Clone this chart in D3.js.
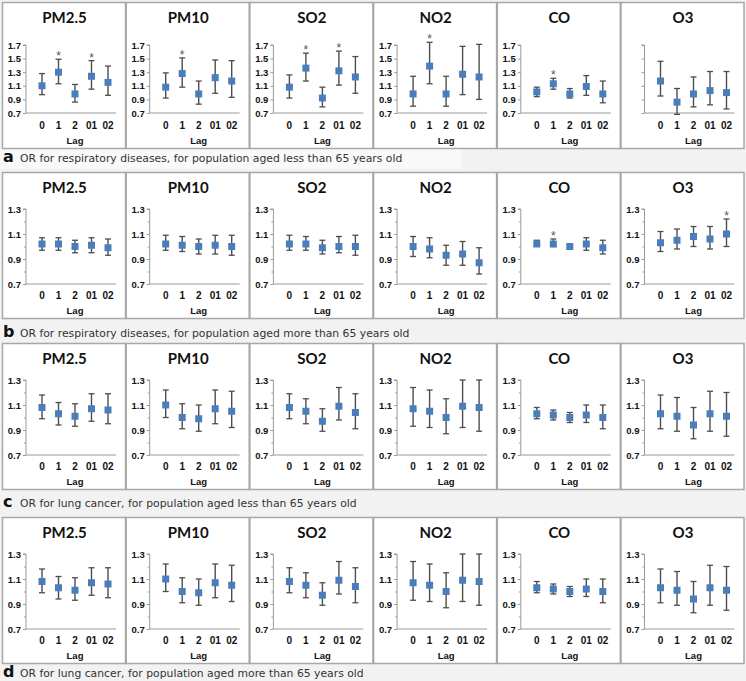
<!DOCTYPE html>
<html><head><meta charset="utf-8">
<script src="https://cdn.jsdelivr.net/npm/d3@7"></script>
<style>html,body{margin:0;padding:0;background:#f2f2f2;}</style>
</head><body><svg id="c" width="746" height="681"></svg>
<script>
const pollutants = ["PM2.5","PM10","SO2","NO2","CO","O3"];
const lags = ["0","1","2","01","02"];
const captions = [
  "OR for respiratory diseases, for population aged less than 65 years old",
  "OR for respiratory diseases, for population aged more than 65 years old",
  "OR for lung cancer, for population aged less than 65 years old",
  "OR for lung cancer, for population aged more than 65 years old"];
const captionLetters = ["a","b","c","d"];
const ticksA = [0.7,0.9,1.1,1.3,1.5,1.7];
const ticksB = [0.7,0.9,1.1,1.3];

// row a: respiratory, <65
const aOR  = [[1.10,1.30,0.98,1.24,1.15],[1.08,1.28,0.98,1.22,1.17],[1.08,1.36,0.92,1.32,1.23],[0.98,1.39,0.98,1.27,1.23],[1.01,1.13,0.98,1.09,0.98],[1.17,0.86,0.98,1.03,1.00]];
const aLow = [[0.97,1.13,0.86,1.05,0.96],[0.92,1.08,0.83,0.99,0.93],[0.92,1.17,0.79,1.11,0.99],[0.80,1.13,0.80,0.97,0.90],[0.94,1.05,0.92,0.96,0.85],[0.95,0.68,0.79,0.82,0.76]];
const aHigh= [[1.28,1.49,1.12,1.47,1.39],[1.29,1.51,1.17,1.48,1.47],[1.26,1.58,1.08,1.61,1.53],[1.24,1.74,1.24,1.68,1.71],[1.08,1.21,1.06,1.25,1.17],[1.46,1.06,1.23,1.31,1.31]];
const aSig = [[0,1],[0,3],[1,1],[2,1],[2,3],[3,1],[4,1]];

// row b: respiratory, >65
const bOR  = [[1.02,1.02,1.00,1.01,0.99],[1.02,1.01,1.00,1.01,1.00],[1.02,1.02,0.99,1.00,1.00],[1.00,0.98,0.93,0.94,0.87],[1.02,1.02,1.00,1.02,0.99],[1.03,1.05,1.08,1.06,1.10]];
const bLow = [[0.97,0.97,0.95,0.95,0.93],[0.97,0.96,0.94,0.94,0.93],[0.97,0.97,0.94,0.95,0.93],[0.92,0.91,0.85,0.85,0.78],[1.01,1.00,0.98,0.97,0.94],[0.96,0.98,1.00,0.98,1.00]];
const bHigh= [[1.07,1.07,1.05,1.07,1.06],[1.09,1.08,1.06,1.09,1.09],[1.09,1.08,1.05,1.08,1.09],[1.08,1.07,1.01,1.04,0.99],[1.05,1.06,1.02,1.07,1.05],[1.12,1.14,1.16,1.16,1.22]];
const bSig = [[4,1],[5,4]];

// row c: lung cancer, <65
const cOR  = [[1.08,1.03,1.01,1.07,1.06],[1.10,1.00,0.99,1.07,1.05],[1.08,1.05,0.97,1.09,1.04],[1.07,1.05,1.00,1.09,1.08],[1.03,1.02,1.00,1.02,1.00],[1.03,1.01,0.94,1.03,1.01]];
const cLow = [[0.99,0.94,0.93,0.97,0.95],[1.00,0.91,0.89,0.95,0.92],[0.99,0.95,0.89,0.98,0.91],[0.93,0.92,0.87,0.92,0.89],[0.99,0.98,0.96,0.96,0.91],[0.91,0.89,0.83,0.89,0.85]];
const cHigh= [[1.18,1.12,1.11,1.19,1.19],[1.22,1.11,1.10,1.22,1.21],[1.19,1.15,1.07,1.24,1.19],[1.24,1.22,1.15,1.30,1.30],[1.08,1.06,1.04,1.10,1.10],[1.18,1.16,1.08,1.21,1.20]];
const cSig = [];

// row d: lung cancer, >65
const dOR  = [[1.08,1.03,1.01,1.07,1.06],[1.10,1.00,0.99,1.07,1.05],[1.08,1.05,0.97,1.09,1.04],[1.07,1.05,1.00,1.09,1.08],[1.03,1.02,1.00,1.02,1.00],[1.03,1.01,0.94,1.03,1.01]];
const dLow = [[0.99,0.94,0.93,0.97,0.95],[1.00,0.91,0.89,0.95,0.92],[0.99,0.95,0.89,0.98,0.91],[0.93,0.92,0.87,0.92,0.89],[0.99,0.98,0.96,0.96,0.91],[0.91,0.89,0.83,0.89,0.85]];
const dHigh= [[1.18,1.12,1.11,1.19,1.19],[1.22,1.11,1.10,1.22,1.21],[1.19,1.15,1.07,1.24,1.19],[1.24,1.22,1.15,1.30,1.30],[1.08,1.06,1.04,1.10,1.10],[1.18,1.16,1.08,1.21,1.20]];
const dSig = [];

const rows = [
  {or:aOR, lo:aLow, hi:aHigh, sig:aSig, ticks:ticksA, top:2,   yTop:43, yBot:111, minor:false},
  {or:bOR, lo:bLow, hi:bHigh, sig:bSig, ticks:ticksB, top:172, yTop:37, yBot:112, minor:true},
  {or:cOR, lo:cLow, hi:cHigh, sig:cSig, ticks:ticksB, top:343, yTop:37, yBot:112, minor:true},
  {or:dOR, lo:dLow, hi:dHigh, sig:dSig, ticks:ticksB, top:517, yTop:37, yBot:112, minor:true}
];
const captionY = [162, 337, 507, 677];

const svg = d3.select("#c");
svg.append("rect").attr("width",746).attr("height",681).attr("fill","#f2f2f2");
svg.append("rect").attr("x",0).attr("y",149).attr("width",462).attr("height",20).attr("fill","#f9f9f9");

const panelW = 123, panelH = 146, pitch = 123.7, left0 = 2;
const x = d3.scalePoint().domain(lags).range([40,106]);
const blue = "#4a7ebb", barCol = "#4d4d4d", axisCol = "#9a9a9a";

rows.forEach((row, ri) => {
  const y = d3.scaleLinear().domain([0.7, row.ticks[row.ticks.length-1]]).range([row.yBot, row.yTop]);
  pollutants.forEach((p, pi) => {
    const g = svg.append("g").attr("transform", `translate(${left0 + pi*pitch},${row.top})`);
    g.append("rect").attr("x",0.5).attr("y",0.5).attr("width",panelW).attr("height",panelH)
      .attr("fill","#fff").attr("stroke","#a8a8a8").attr("stroke-width",1.5);
    g.append("text").attr("x",panelW/2+1).attr("y",21).attr("text-anchor","middle")
      .attr("font-family","Lato, 'Open Sans', sans-serif").attr("font-weight","bold").attr("font-size",15)
      .attr("fill","#111").text(p);
    const noLabels = (ri === 0 && pi === 5);
    const ax = d3.axisLeft(y).tickValues(row.ticks).tickSize(3).tickPadding(2)
      .tickFormat(noLabels ? () => "" : d3.format(".1f"));
    const ag = g.append("g").attr("transform","translate(24,0)").call(ax);
    ag.select(".domain").attr("stroke",axisCol).attr("d", `M-3,${row.yTop}H0V${row.yBot}`);
    ag.selectAll(".tick line").attr("stroke",axisCol);
    ag.selectAll("text").attr("font-family","'Liberation Sans', Arial, sans-serif").attr("font-weight","bold")
      .attr("font-size",9.5).attr("fill","#111");
    if (row.minor) {
      const mg = g.append("g").attr("transform","translate(24,0)")
        .call(d3.axisLeft(y).tickValues([0.8,1.0,1.2]).tickSize(2).tickFormat(""));
      mg.select(".domain").remove();
      mg.selectAll(".tick line").attr("stroke",axisCol);
    }
    g.append("line").attr("x1",24).attr("x2",114).attr("y1",row.yBot).attr("y2",row.yBot)
      .attr("stroke",axisCol).attr("stroke-width",1);
    g.selectAll(".xl").data(lags).enter().append("text")
      .attr("x", d => x(d)).attr("y", 127).attr("text-anchor","middle")
      .attr("font-family","'Liberation Sans', Arial, sans-serif").attr("font-weight","bold")
      .attr("font-size",10).attr("fill","#111").text(d => d);
    g.append("text").attr("x", 73).attr("y", 142).attr("text-anchor","middle")
      .attr("font-family","'Liberation Sans', Arial, sans-serif").attr("font-weight","bold")
      .attr("font-size",9.5).attr("fill","#111").text("Lag");
    lags.forEach((l, li) => {
      const cx = x(l);
      const lo = row.lo[pi][li], hi = row.hi[pi][li], v = row.or[pi][li];
      g.append("line").attr("x1",cx).attr("x2",cx).attr("y1",y(lo)).attr("y2",y(hi))
        .attr("stroke",barCol).attr("stroke-width",1.4);
      [lo,hi].forEach(e => g.append("line").attr("x1",cx-3).attr("x2",cx+3).attr("y1",y(e)).attr("y2",y(e))
        .attr("stroke",barCol).attr("stroke-width",1.3));
      g.append("rect").attr("x",cx-3.5).attr("y",y(v)-3.5).attr("width",7).attr("height",7).attr("fill",blue);
    });
    row.sig.filter(s => s[0] === pi).forEach(s => {
      const l = lags[s[1]];
      g.append("text").attr("x", x(l)).attr("y", y(row.hi[pi][s[1]]) + 1).attr("text-anchor","middle")
        .attr("font-family","'Liberation Sans', Arial, sans-serif").attr("font-size",12).attr("fill","#555").text("*");
    });
  });
  const cg = svg.append("text").attr("y", captionY[ri]);
  cg.append("tspan").attr("x",3).attr("font-family","'DejaVu Sans', Verdana, sans-serif").attr("font-weight","bold")
    .attr("font-size",16).attr("fill","#111").text(captionLetters[ri]);
  cg.append("tspan").attr("x",20).attr("font-family","'DejaVu Sans', Verdana, sans-serif")
    .attr("font-size",10.8).attr("fill","#333").text(captions[ri]);
});
</script>
</body></html>
